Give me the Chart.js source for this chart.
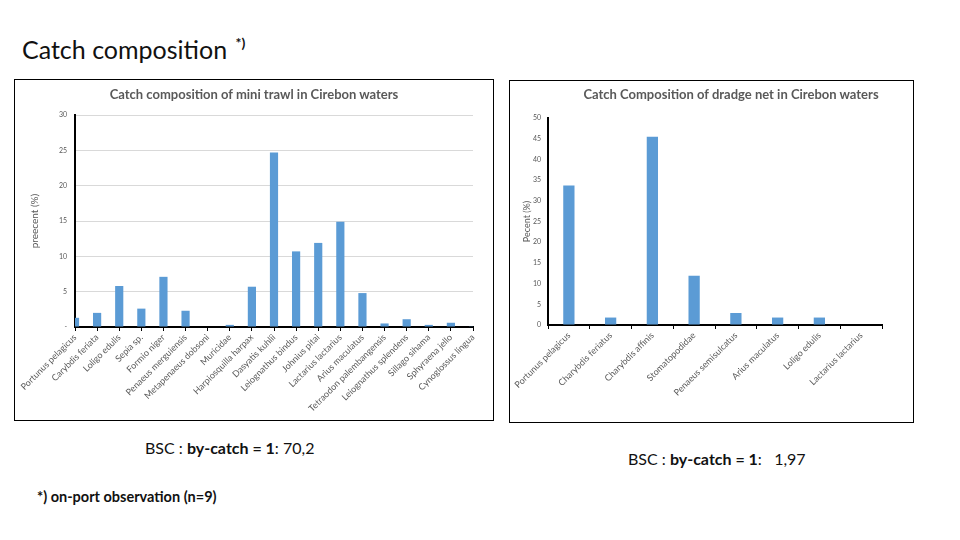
<!DOCTYPE html>
<html>
<head>
<meta charset="utf-8">
<script src="https://cdn.jsdelivr.net/npm/chart.js@4.4.1/dist/chart.umd.min.js"></script>
<style>
  html, body { margin: 0; padding: 0; background: #fff; }
  body { width: 960px; height: 540px; position: relative; overflow: hidden; font-family: Lato, "Open Sans", sans-serif; color: #111; }
  .abs { position: absolute; white-space: nowrap; }
  .box { position: absolute; border: 1px solid #000; background: #fff; }
  .box canvas { position: absolute; left: 0; top: 0; }
  .ctitle { position: absolute; font-size: 13px; font-weight: bold; color: #595959; white-space: nowrap; transform: translateX(-50%); }
</style>
</head>
<body>
<div class="abs" style="left:22px; top:34px; font-size:25px;">Catch composition <span style="font-size:14px; font-weight:bold; position:relative; top:-11px; left:2px;">*)</span></div>

<div class="box" style="left:14px; top:79px; width:478px; height:340px;">
  <canvas id="miniChart" width="478" height="340"></canvas>
</div>
<div class="ctitle" style="left:254px; top:86px;">Catch composition of mini trawl in Cirebon waters</div>

<div class="box" style="left:509px; top:80px; width:403px; height:341px;">
  <canvas id="dredgeChart" width="403" height="341"></canvas>
</div>
<div class="ctitle" style="left:731px; top:86px;">Catch Composition of dradge net in Cirebon waters</div>

<div class="abs" style="left:145px; top:438px; font-size:16px;">BSC : <b>by-catch = 1</b>: 70,2</div>
<div class="abs" style="left:37px; top:488px; font-size:14.5px; font-weight:bold;">*) on-port observation (n=9)</div>
<div class="abs" style="left:628px; top:449px; font-size:16px;">BSC : <b>by-catch = 1</b>:&nbsp;&nbsp; 1,97</div>

<script>
const miniLabels = ["Portunus pelagicus", "Carybdis feriata", "Loligo edulis", "Sepia sp.", "Formio niger",
  "Penaeus merguiensis", "Metapenaeus dobsoni", "Muricidae", "Harpiosquilla harpax", "Dasyatis kuhlii",
  "Leiognathus bindus", "Johnius pitai", "Lactarius lactarius", "Arius maculatus", "Tetraodon palembangensis",
  "Leiognathus splendens", "Sillago sihama", "Sphyraena jello", "Cynoglossus lingua"];
const miniValues = [1.3, 2.0, 5.8, 2.6, 7.1, 2.3, 0, 0.3, 5.7, 24.7, 10.7, 11.9, 14.9, 4.8, 0.5, 1.1, 0.3, 0.6, 0.1];

const dredgeLabels = ["Portunus pelagicus", "Charybdis feriatus", "Charybdis affinis", "Stomatopodidae",
  "Penaeus semisulcatus", "Arius maculatus", "Loligo edulis", "Lactarius lactarius"];
const dredgeValues = [33.7, 1.8, 45.5, 11.9, 2.9, 1.8, 1.8, 0];

const barColor = "#5B9BD5";
const greyText = "#595959";

Chart.defaults.font.family = "Lato, 'Open Sans', sans-serif";
Chart.defaults.color = greyText;
Chart.defaults.animation = false;

// mini trawl chart - bars sit on the tick marks like the Excel original
new Chart(document.getElementById("miniChart"), {
  type: "bar",
  data: {
    labels: miniLabels,
    datasets: [{ data: miniValues, backgroundColor: barColor, barPercentage: 0.37, categoryPercentage: 1 }]
  },
  options: {
    responsive: false,
    layout: { padding: { top: 35, right: 20, left: 0, bottom: 0 } },
    plugins: { legend: { display: false }, tooltip: { enabled: false } },
    scales: {
      x: {
        offset: false,
        grid: { offset: false, drawOnChartArea: false, drawTicks: true, tickLength: 4, color: "#000" },
        border: { color: "#000", width: 2 },
        ticks: { autoSkip: false, minRotation: 45, maxRotation: 45, padding: 1, font: { size: 9 }, color: greyText },
        afterFit: (scale) => { scale.height = 93; }
      },
      y: {
        min: 0, max: 30,
        ticks: { stepSize: 5, padding: 8, font: { size: 7 }, color: greyText,
          callback: (v) => (v === 0 ? "-" : v) },
        grid: { color: "#d9d9d9", drawTicks: false },
        border: { color: "#000", width: 2 },
        title: { display: true, text: "preecent (%)", font: { size: 10 }, color: greyText, padding: { top: 14, bottom: 0 } },
        afterFit: (scale) => { scale.width = 60; }
      }
    }
  }
});

// dredge net chart
new Chart(document.getElementById("dredgeChart"), {
  type: "bar",
  data: {
    labels: dredgeLabels,
    datasets: [{ data: dredgeValues, backgroundColor: barColor, barPercentage: 0.27, categoryPercentage: 1 }]
  },
  options: {
    responsive: false,
    layout: { padding: { top: 37, right: 31, left: 0, bottom: 0 } },
    plugins: { legend: { display: false }, tooltip: { enabled: false } },
    scales: {
      x: {
        grid: { drawOnChartArea: false, drawTicks: true, tickLength: 4, color: "#000" },
        border: { color: "#000", width: 2 },
        ticks: { autoSkip: false, minRotation: 45, maxRotation: 45, padding: 1, font: { size: 9 }, color: greyText },
        afterFit: (scale) => { scale.height = 97; }
      },
      y: {
        min: 0, max: 50,
        ticks: { stepSize: 5, padding: 7, font: { size: 7 }, color: greyText },
        grid: { drawOnChartArea: false, drawTicks: false },
        border: { color: "#000", width: 2 },
        title: { display: true, text: "Pecent (%)", font: { size: 9 }, color: greyText, padding: { top: 12, bottom: 0 } },
        afterFit: (scale) => { scale.width = 38; }
      }
    }
  }
});
</script>
</body>
</html>
